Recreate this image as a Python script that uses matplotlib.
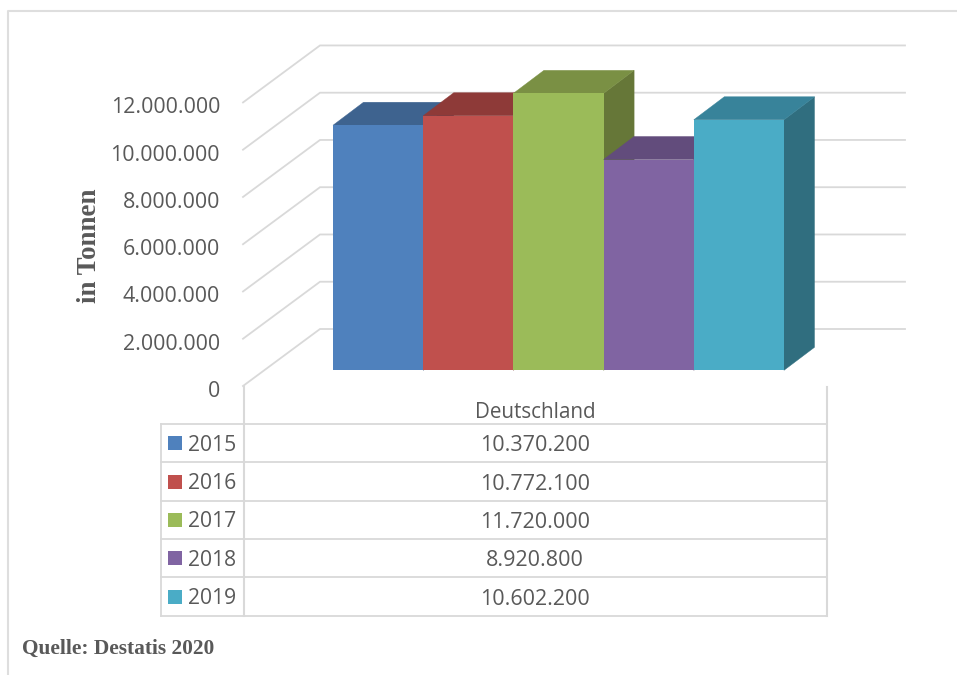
import matplotlib
matplotlib.use("Agg")
import matplotlib.pyplot as plt
from matplotlib.patches import Polygon, Rectangle

years = ["2015", "2016", "2017", "2018", "2019"]
values = [10370200, 10772100, 11720000, 8920800, 10602200]
axis_levels = [0, 2000000, 4000000, 6000000, 8000000, 10000000, 12000000]
category = "Deutschland"
y_title = "in Tonnen"
source = "Quelle: Destatis 2020"

front = ["#4F81BD", "#C0504D", "#9BBB59", "#8064A2", "#4AACC6"]
top = ["#3E638F", "#8E3A38", "#7A9044", "#624C7C", "#38839A"]
side = ["#2F4D71", "#712D2B", "#667738", "#4E3C63", "#306E7F"]
GRID = "#D9D9D9"
TEXT = "#595959"
SANS = "Open Sans"
SERIF = "Liberation Serif"

W, H = 957, 675
PX_PER_UNIT = 23.63 / 1e6      # pixels per tonne
Y0 = 370.3                     # pixel row of value 0 on the bars' front plane


def fmt(v):
    return f"{v:,}".replace(",", ".")


def shift(px):
    """Height in tonnes that corresponds to moving px pixels upward."""
    return px / PX_PER_UNIT


fig = plt.figure(figsize=(W / 100, H / 100), dpi=100, facecolor="white")
ax = fig.add_axes([0, 0, 1, 1])
ax.set_xlim(0, W)
ax.set_ylim(shift(Y0 - H), shift(Y0))
ax.axis("off")

# Overlay in pixel coordinates for frame and table furniture
px = fig.add_axes([0, 0, 1, 1], facecolor="none")
px.set_xlim(0, W)
px.set_ylim(H, 0)
px.axis("off")
ax.set_zorder(1)
px.set_zorder(2)

# Outer frame: top and left only
px.plot([8, 8, W], [H, 11, 11], color="#DEDEDE", lw=1.5, solid_capstyle="butt")

# Walls: front-left end of the floor/grid lines and back wall
BACK = shift(Y0 - 329)
LEFT = shift(Y0 - 386)
for lv in axis_levels:
    ax.plot([243, 320, 905], [lv + LEFT, lv + BACK, lv + BACK],
            color=GRID, lw=1.3, zorder=1, solid_joinstyle="miter")
    ax.text(220, lv + LEFT - shift(5.5), fmt(lv), ha="right", va="center",
            family=SANS, fontsize=15.4, color=TEXT, zorder=6)

# 3D bars
BAR_W = 90.2
X0 = 333
DX, DY = 30.5, shift(23)
lefts = [X0 + i * BAR_W for i in range(len(values))]
for i, v in enumerate(values):
    x = lefts[i]
    ax.add_patch(Polygon([(x + BAR_W, 0), (x + BAR_W + DX, DY), (x + BAR_W + DX, v + DY), (x + BAR_W, v)],
                         closed=True, fc=side[i], ec=side[i], lw=0.3, zorder=2 + i * 0.1))
    ax.add_patch(Polygon([(x, v), (x + DX, v + DY), (x + BAR_W + DX, v + DY), (x + BAR_W, v)],
                         closed=True, fc=top[i], ec=top[i], lw=0.3, zorder=2.01 + i * 0.1))
    ax.bar(x, v, width=BAR_W, align="edge", color=front[i], zorder=2.02 + i * 0.1)

# Axis y title
px.text(89, 246, y_title, rotation=90, ha="center", va="center",
        family=SERIF, weight="bold", fontsize=19.4, color=TEXT)

# Data table
TX0, TX1, TX2 = 160.5, 243.5, 827
rows_y = [424, 462.3, 500.7, 539, 577.3, 616]
for y in rows_y:
    px.plot([TX0, TX2], [y, y], color=GRID, lw=1.3, solid_capstyle="projecting")
px.plot([TX0, TX0], [rows_y[0], rows_y[-1]], color=GRID, lw=1.3)
px.plot([TX1, TX1], [386, rows_y[-1]], color=GRID, lw=1.5)
px.plot([TX2, TX2], [387, rows_y[-1]], color=GRID, lw=1.5)

px.text((TX1 + TX2) / 2, 413, category, ha="center", va="center",
        family=SANS, fontsize=14.9, color=TEXT)

for i, (yr, v) in enumerate(zip(years, values)):
    cy = (rows_y[i] + rows_y[i + 1]) / 2
    px.add_patch(Rectangle((168, cy - 7), 14, 14, fc=front[i], ec="none"))
    px.text(188, cy + 2, yr, ha="left", va="center", family=SANS, fontsize=15.2, color=TEXT)
    px.text((TX1 + TX2) / 2, cy + 2.5, fmt(v), ha="center", va="center",
            family=SANS, fontsize=15.5, color=TEXT)

# Source note
px.text(22, 649, source, ha="left", va="center",
        family=SERIF, weight="bold", fontsize=15.4, color=TEXT)

fig.savefig("out.png", dpi=100, facecolor="white")
